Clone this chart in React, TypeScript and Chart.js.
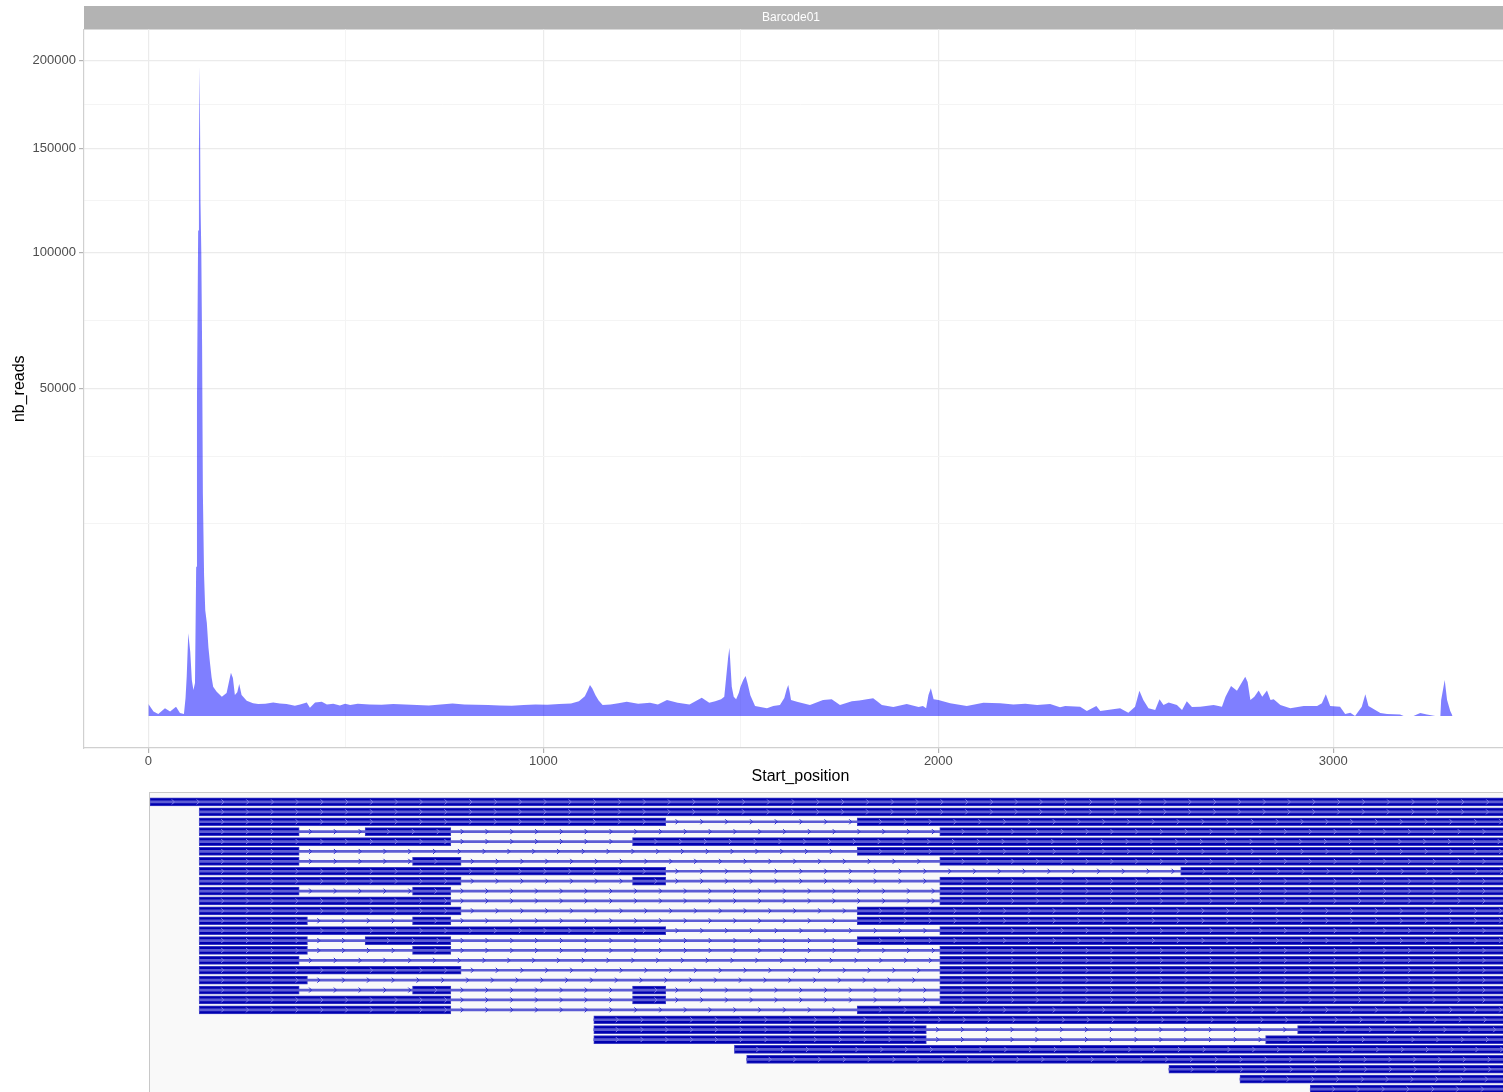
import React, { useEffect, useRef } from "react";
import { Chart, registerables, LinearScale } from "chart.js";

// ---------- coverage data (top panel) ----------
const startPositions = [
  0, 13, 25, 42, 55, 70, 80, 90, 94, 97, 101, 106, 110, 114, 118, 121, 123, 126, 128, 130,
  132, 134, 136, 138, 141, 144, 148, 152, 156, 160, 164, 173, 186, 198, 205, 209, 214, 219, 225, 230, 236,
  249, 265, 278, 296, 316, 333, 350, 371, 384, 401, 409, 422, 439, 452, 468, 485, 498, 511, 530, 560,
  590, 620, 650, 680, 710, 740, 770, 800, 830, 860, 890, 920, 950, 980, 1010, 1040, 1070, 1090, 1105, 1112,
  1118, 1124, 1132, 1140, 1150, 1170, 1190, 1211, 1240, 1270, 1290, 1313, 1340, 1370, 1401, 1420, 1435, 1450, 1458, 1463,
  1468, 1471, 1473, 1477, 1482, 1488, 1495, 1499, 1506, 1512, 1517, 1524, 1536, 1566, 1582, 1599, 1610, 1616, 1620, 1624,
  1627, 1642, 1675, 1708, 1730, 1751, 1781, 1800, 1819, 1835, 1845, 1857, 1886, 1920, 1950, 1961, 1969, 1975, 1981, 1988,
  2000, 2030, 2072, 2114, 2157, 2190, 2220, 2250, 2283, 2308, 2321, 2359, 2376, 2400, 2410, 2460, 2481, 2498, 2509, 2519,
  2532, 2549, 2560, 2570, 2583, 2604, 2617, 2629, 2642, 2663, 2697, 2718, 2727, 2741, 2756, 2769, 2777, 2783, 2790, 2800,
  2811, 2820, 2832, 2841, 2849, 2866, 2891, 2925, 2959, 2971, 2981, 2992, 3017, 3030, 3043, 3055, 3072, 3081, 3089, 3119,
  3136, 3169, 3178, 3203, 3220, 3237, 3258, 3271, 3273, 3282, 3288, 3296, 3302,
];
const nbReads = [
  67, 9, 2, 28, 9, 40, 4, 2, 145, 718, 3180, 1920, 602, 314, 506, 10360, 46400, 109700, 150000, 196500,
  122300, 100000, 64000, 23000, 9200, 5200, 4020, 2200, 1300, 700, 400, 274, 173, 246, 600, 871, 671, 205, 260, 476, 205,
  109, 75, 67, 70, 85, 72, 67, 48, 60, 85, 32, 85, 95, 60, 70, 52, 70, 55, 70, 62,
  58, 66, 60, 55, 52, 60, 72, 62, 58, 55, 50, 48, 55, 62, 58, 66, 72, 100, 180, 300,
  450, 350, 200, 110, 56, 60, 75, 95, 70, 80, 60, 119, 80, 60, 156, 80, 101, 130, 173, 718,
  1630, 2170, 1450, 400, 173, 130, 250, 400, 600, 743, 500, 200, 46, 28, 46, 56, 150, 331, 446, 250,
  119, 95, 56, 119, 130, 56, 101, 110, 130, 145, 100, 56, 37, 67, 37, 46, 28, 205, 356, 130,
  119, 76, 46, 80, 76, 60, 70, 55, 67, 35, 46, 40, 11, 46, 11, 28, 5, 40, 297, 119,
  28, 17, 130, 56, 86, 56, 17, 101, 37, 40, 56, 40, 173, 418, 297, 537, 718, 537, 119, 173,
  300, 173, 300, 119, 130, 56, 28, 46, 46, 76, 218, 46, 40, 2, 5, 0, 40, 218, 46, 4,
  2, 1, 0, 0, 4, 1, 0, 0, 119, 602, 119, 11, 0,
];

const yMajorTicks = [50000, 100000, 150000, 200000];
const yMinorTicks = [17161, 31435, 72846, 123728, 174098];
const xMajorTicks = [0, 1000, 2000, 3000];
const xMinorTicks = [500, 1500, 2500];
const panelTitle = "Barcode01";
const xTitle = "Start_position";
const yTitle = "nb_reads";

// ---------- transcript track (bottom panel) ----------
const transcriptIds = Array.from({ length: 30 }, (_, i) => "T" + (i + 1));
const transcriptExons: number[][][] = [
  [[4, 3500]],
  [[129, 3500]],
  [[129, 1310], [1795, 3500]],
  [[129, 382], [549, 766], [2004, 3500]],
  [[129, 766], [1226, 3500]],
  [[129, 382], [1795, 3500]],
  [[129, 382], [669, 792], [2004, 3500]],
  [[129, 1310], [2614, 3500]],
  [[129, 792], [1226, 1310], [2004, 3500]],
  [[129, 382], [669, 766], [2004, 3500]],
  [[129, 766], [2004, 3500]],
  [[129, 792], [1795, 3500]],
  [[129, 403], [669, 766], [1795, 3500]],
  [[129, 1310], [2004, 3500]],
  [[129, 403], [549, 766], [1795, 3500]],
  [[129, 403], [669, 766], [2004, 3500]],
  [[129, 382], [2004, 3500]],
  [[129, 792], [2004, 3500]],
  [[129, 403], [2004, 3500]],
  [[129, 382], [669, 766], [1226, 1310], [2004, 3500]],
  [[129, 766], [1226, 1310], [2004, 3500]],
  [[129, 766], [1795, 3500]],
  [[1128, 3500]],
  [[1128, 1970], [2910, 3500]],
  [[1128, 1970], [2829, 3500]],
  [[1484, 3500]],
  [[1515, 3500]],
  [[2584, 3500]],
  [[2764, 3500]],
  [[2942, 3500]],
];

const ssqrt = (v: number) => (v < 0 ? -Math.sqrt(-v) : Math.sqrt(v));

class SqrtScale extends (LinearScale as any) {
  static id = "sqrt";
  buildTicks() {
    return [...yMinorTicks, ...yMajorTicks].sort((a, b) => a - b).map((v) => ({ value: v }));
  }
  getPixelForValue(value: number) {
    if (value === null || value === undefined) return NaN;
    const a = ssqrt(this.min), b = ssqrt(this.max);
    return this.getPixelForDecimal((ssqrt(value) - a) / (b - a));
  }
  getValueForPixel(pixel: number) {
    const a = ssqrt(this.min), b = ssqrt(this.max);
    const t = a + this.getDecimalForPixel(pixel) * (b - a);
    return t < 0 ? -t * t : t * t;
  }
}

Chart.register(...registerables, SqrtScale as any);

const FONT = '"Liberation Sans", Arial, Helvetica, sans-serif';

const stripPlugin = {
  id: "strip",
  beforeDraw(chart: any) {
    const { ctx, chartArea } = chart;
    ctx.save();
    ctx.fillStyle = "#b3b3b3";
    ctx.fillRect(chartArea.left, 6, chartArea.right - chartArea.left, chartArea.top - 6);
    ctx.fillStyle = "#ffffff";
    ctx.font = "12px " + FONT;
    ctx.textAlign = "center";
    ctx.textBaseline = "middle";
    ctx.fillText(panelTitle, 791, 18);
    ctx.restore();
  },
};

const chevron = (ctx: CanvasRenderingContext2D, cx: number, y: number) => {
  ctx.beginPath();
  ctx.moveTo(cx - 1.5, y - 2.5);
  ctx.lineTo(cx + 1, y);
  ctx.lineTo(cx - 1.5, y + 2.5);
  ctx.stroke();
};

const chevronPlugin = {
  id: "chevrons",
  afterDatasetsDraw(chart: any) {
    const { ctx, chartArea } = chart;
    const meta = chart.getDatasetMeta(1);
    const rows = new Map<number, { l: number; r: number; y: number }[]>();
    ctx.save();
    ctx.beginPath();
    ctx.rect(chartArea.left, chartArea.top, chartArea.right - chartArea.left, chartArea.bottom - chartArea.top);
    ctx.clip();
    ctx.lineWidth = 1;
    ctx.strokeStyle = "#8282ea";
    meta.data.forEach((bar: any) => {
      const p = bar.getProps(["x", "y", "base"], true);
      const l = Math.min(p.x, p.base), r = Math.max(p.x, p.base);
      const key = Math.round(p.y);
      if (!rows.has(key)) rows.set(key, []);
      rows.get(key)!.push({ l, r, y: p.y });
      for (let cx = l + 23.5; cx < r - 3; cx += 24.8) chevron(ctx, cx, p.y);
    });
    ctx.strokeStyle = "#2a2ad0";
    rows.forEach((list) => {
      list.sort((a, b) => a.l - b.l);
      for (let i = 0; i < list.length - 1; i++) {
        const l = list[i].r, r = list[i + 1].l;
        for (let cx = l + 11.4; cx < r - 2; cx += 24.8) chevron(ctx, cx, list[i].y);
      }
    });
    ctx.restore();
  },
};

export default function App() {
  const topRef = useRef<HTMLCanvasElement>(null);
  const trackRef = useRef<HTMLCanvasElement>(null);

  useEffect(() => {
    Chart.defaults.font.family = FONT;
    const top = new Chart(topRef.current!, {
      type: "line",
      data: {
        datasets: [
          {
            data: startPositions.map((x, i) => ({ x, y: nbReads[i] })),
            borderWidth: 0,
            borderColor: "rgba(0,0,0,0)",
            backgroundColor: "rgba(0,0,255,0.5)",
            pointRadius: 0,
            fill: "origin",
            tension: 0,
          },
        ],
      },
      options: {
        animation: false,
        responsive: false,
        events: [],
        layout: { padding: { top: 29.5, right: 3, left: 0, bottom: 0 } },
        plugins: { legend: { display: false }, tooltip: { enabled: false } },
        scales: {
          x: {
            type: "linear",
            min: -163,
            max: 3465,
            bounds: "data",
            afterBuildTicks: (s: any) => {
              s.ticks = [...xMajorTicks, ...xMinorTicks].sort((a, b) => a - b).map((v) => ({ value: v }));
            },
            afterFit: (s: any) => {
              s.height = 45;
            },
            ticks: {
              autoSkip: false,
              maxRotation: 0,
              padding: 1,
              color: "#4d4d4d",
              font: { size: 13 },
              callback: (v: any) => (xMajorTicks.includes(v) ? String(v) : ""),
            },
            grid: {
              color: (c: any) => (xMajorTicks.includes(c.tick?.value) ? "#ebebeb" : "#f4f4f4"),
              lineWidth: (c: any) => (xMajorTicks.includes(c.tick?.value) ? 1.2 : 1),
              tickColor: (c: any) => (xMajorTicks.includes(c.tick?.value) ? "#b3b3b3" : "rgba(0,0,0,0)"),
              tickLength: 5,
            },
            border: { display: true, color: "#d0d0d0", width: 1.2 },
            title: {
              display: true,
              text: xTitle,
              color: "#000000",
              font: { size: 16 },
              padding: { top: 0, bottom: 7 },
            },
          },
          y: {
            type: "sqrt" as any,
            min: -477,
            max: 219240,
            bounds: "data",
            afterFit: (s: any) => {
              s.width = 84;
            },
            ticks: {
              padding: 3,
              color: "#4d4d4d",
              font: { size: 13 },
              autoSkip: false,
              callback: (v: any) => (yMajorTicks.includes(v) ? String(v) : ""),
            },
            grid: {
              color: (c: any) => (yMajorTicks.includes(c.tick?.value) ? "#ebebeb" : "#f4f4f4"),
              lineWidth: (c: any) => (yMajorTicks.includes(c.tick?.value) ? 1.2 : 1),
              tickColor: (c: any) => (yMajorTicks.includes(c.tick?.value) ? "#b3b3b3" : "rgba(0,0,0,0)"),
              tickLength: 5,
            },
            border: { display: true, color: "#d0d0d0", width: 1.2 },
            title: {
              display: true,
              text: yTitle,
              color: "#000000",
              font: { size: 16 },
              padding: { top: 10, bottom: 0 },
            },
          },
        },
      } as any,
      plugins: [stripPlugin],
    });

    const intronData = transcriptExons.map((ex, i) => ({
      y: transcriptIds[i],
      x: [ex[0][0], ex[ex.length - 1][1]],
    }));
    const exonData: any[] = [];
    transcriptExons.forEach((ex, i) => ex.forEach((e) => exonData.push({ y: transcriptIds[i], x: [e[0], e[1]] })));

    const track = new Chart(trackRef.current!, {
      type: "bar",
      data: {
        labels: transcriptIds,
        datasets: [
          {
            data: intronData as any,
            backgroundColor: "#5c5cd4",
            barThickness: 2,
            grouped: false,
            borderWidth: 0,
          },
          {
            data: exonData,
            backgroundColor: "#0000b0",
            borderColor: "#3a3ac4",
            borderWidth: 1,
            borderSkipped: false,
            barThickness: 8,
            grouped: false,
          },
        ],
      },
      options: {
        indexAxis: "y",
        animation: false,
        responsive: false,
        events: [],
        layout: { padding: { top: 4, bottom: 4, left: 0, right: 0 } },
        plugins: { legend: { display: false }, tooltip: { enabled: false } },
        scales: {
          x: { type: "linear", min: 4.3, max: 3447.8, display: false },
          y: { type: "category", display: false, offset: true },
        },
      } as any,
      plugins: [chevronPlugin],
    });

    return () => {
      top.destroy();
      track.destroy();
    };
  }, []);

  return (
    <div
      style={{
        position: "absolute",
        left: 0,
        top: 0,
        width: 1503,
        height: 1092,
        overflow: "hidden",
        background: "#ffffff",
      }}
    >
      <canvas
        ref={topRef}
        width={1520}
        height={793}
        style={{ position: "absolute", left: 0, top: 0, width: 1520, height: 793 }}
      />
      <div
        style={{
          position: "absolute",
          left: 149,
          top: 792,
          width: 1400,
          height: 320,
          background: "#f9f9f9",
          borderTop: "1px solid #c8c8c8",
          borderLeft: "1px solid #c8c8c8",
        }}
      >
        <canvas
          ref={trackRef}
          width={1360}
          height={305}
          style={{ position: "absolute", left: 0, top: 0, width: 1360, height: 305 }}
        />
      </div>
    </div>
  );
}
